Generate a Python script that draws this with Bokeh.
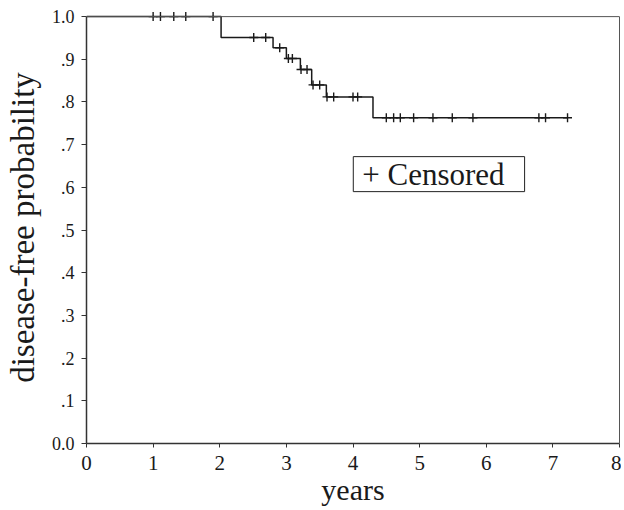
from bokeh.plotting import figure
from bokeh.models import Range1d, FixedTicker, LinearAxis, Span, Label
from bokeh.embed import file_html
from bokeh.resources import INLINE

# Kaplan-Meier step curve (event times and survival after each step)
step_times = [0.0, 2.02, 2.80, 3.00, 3.21, 3.38, 3.60, 4.30, 7.22]
step_probs = [1.0, 0.951, 0.927, 0.902, 0.876, 0.840, 0.812, 0.763, 0.763]

# Censored observations
censor_times = [1.00, 1.11, 1.31, 1.49, 1.90,
                2.51, 2.69,
                2.90,
                3.03, 3.09,
                3.22, 3.31,
                3.40, 3.50,
                3.61, 3.71, 4.00, 4.07,
                4.50, 4.61, 4.71, 4.91, 5.20, 5.49, 5.80, 6.79, 6.89, 7.22]
censor_probs = [1.0, 1.0, 1.0, 1.0, 1.0,
                0.951, 0.951,
                0.927,
                0.902, 0.902,
                0.876, 0.876,
                0.840, 0.840,
                0.812, 0.812, 0.812, 0.812,
                0.763, 0.763, 0.763, 0.763, 0.763, 0.763, 0.763, 0.763, 0.763, 0.763]

x_ticks = [0, 1, 2, 3, 4, 5, 6, 7, 8]
y_ticks = [0.0, 0.1, 0.2, 0.3, 0.4, 0.5, 0.6, 0.7, 0.8, 0.9, 1.0]
y_tick_labels = ["0.0", ".1", ".2", ".3", ".4", ".5", ".6", ".7", ".8", ".9", "1.0"]

FONT = "Liberation Serif"
INK = "#1a1a1a"

p = figure(width=621, height=509, output_backend="svg", toolbar_location=None,
           x_range=Range1d(0, 8), y_range=Range1d(0, 1.012),
           min_border_left=86, min_border_right=2, min_border_top=11, min_border_bottom=66)
p.outline_line_color = None
p.xgrid.visible = False
p.ygrid.visible = False
p.background_fill_color = "white"
p.border_fill_color = "white"

# x axis
xa = p.xaxis[0]
xa.ticker = FixedTicker(ticks=x_ticks)
xa.axis_label = "years"
xa.axis_label_text_font = FONT
xa.axis_label_text_font_style = "normal"
xa.axis_label_text_font_size = "30px"
xa.axis_label_text_color = INK
xa.axis_label_standoff = 0
xa.major_label_text_font = FONT
xa.major_label_text_font_size = "21px"
xa.major_label_text_color = INK
xa.major_label_standoff = 8
xa.major_tick_in = 0
xa.major_tick_out = 4
xa.minor_tick_in = 0
xa.minor_tick_out = 0
xa.axis_line_color = "#333333"
xa.axis_line_width = 1.5
xa.major_tick_line_color = "#333333"

# y axis
ya = p.yaxis[0]
ya.ticker = FixedTicker(ticks=y_ticks)
ya.major_label_overrides = {t: s for t, s in zip(y_ticks, y_tick_labels)}
ya.bounds = (0, 1)
ya.axis_label = "disease-free probability"
ya.axis_label_text_font = FONT
ya.axis_label_text_font_style = "normal"
ya.axis_label_text_font_size = "33px"
ya.axis_label_text_color = INK
ya.axis_label_standoff = 8
ya.major_label_text_font = FONT
ya.major_label_text_font_size = "18px"
ya.major_label_text_color = INK
ya.major_label_standoff = 7
ya.major_tick_in = 0
ya.major_tick_out = 5
ya.minor_tick_in = 0
ya.minor_tick_out = 0
ya.axis_line_color = "#333333"
ya.axis_line_width = 1.5
ya.major_tick_line_color = "#333333"

# right border (axis line only)
ra = LinearAxis(bounds=(0, 1), ticker=FixedTicker(ticks=[]),
                major_tick_in=0, major_tick_out=0, minor_tick_in=0, minor_tick_out=0,
                major_label_text_font_size="0px", axis_line_color="#555555", axis_line_width=1)
p.add_layout(ra, "right")

# top border at 1.0
p.add_layout(Span(location=1.0, dimension="width", line_color="#555555", line_width=1))

# KM curve
p.step(step_times, step_probs, mode="after", line_color=INK, line_width=1.5)
p.scatter(censor_times, censor_probs, marker="cross", size=9, line_color=INK, line_width=1.4)

# legend box
p.add_layout(Label(x=5.29, y=0.631, text="+ Censored", text_align="center",
                   text_baseline="middle", text_font=FONT, text_font_size="31px",
                   text_color=INK, border_line_color="#222222", border_line_width=1,
                   background_fill_color="white", padding=(9, 20, 0, 0)))

open("out.html", "w").write(file_html(p, INLINE))
